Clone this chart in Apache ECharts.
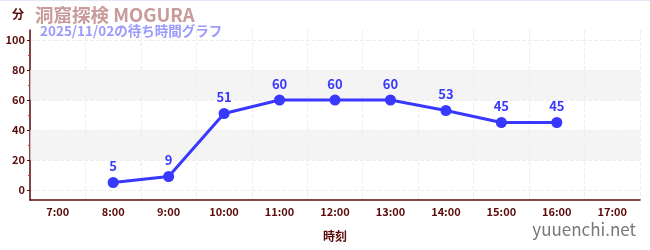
<!DOCTYPE html>
<html><head><meta charset="utf-8">
<script src="https://cdn.jsdelivr.net/npm/echarts@6/dist/echarts.min.js"></script>
<style>html,body{margin:0;padding:0;background:#fff}#c{width:650px;height:250px}</style>
</head><body><div id="c"></div>
<script>
const categories = ['7:00','8:00','9:00','10:00','11:00','12:00','13:00','14:00','15:00','16:00','17:00'];
const waitTimes = [null, 5, 9, 51, 60, 60, 60, 53, 45, 45, null];
const yTicks = [0, 20, 40, 60, 80, 100];
const yMinorTicks = [10, 30, 50, 70, 90];
const bands = [[20, 40], [60, 80]];
const titleText = '洞窟探検 MOGURA';
const subtitleText = '2025/11/02の待ち時間グラフ';

const axisColor = '#5a0a0a';
const font = '"Noto Sans CJK JP","Noto Sans",sans-serif';
const chart = echarts.init(document.getElementById('c'), null, {renderer: 'canvas'});
chart.setOption({
  animation: false,
  textStyle: {fontFamily: font},
  title: {
    text: titleText, left: 30, top: 1,
    textStyle: {color: '#c89a9a', fontSize: 18.5, fontWeight: 'bold', fontFamily: font}
  },
  graphic: [
    {type: 'line', shape: {x1: 0, y1: 0.5, x2: 650, y2: 0.5}, style: {stroke: '#e6e6fa', lineWidth: 1}},
    {type: 'text', left: 40, top: 24, z: 10, style: {text: subtitleText, fill: '#9a9aff', font: 'bold 13.5px ' + font}},
    {type: 'text', left: 12, top: 8, style: {text: '分', fill: axisColor, font: 'bold 12px ' + font}},
    {type: 'text', right: 14, top: 221, style: {text: 'yuuenchi.net', fill: '#777777', font: '17px ' + font}}
  ],
  grid: {left: 30, right: 10, top: 30, bottom: 50},
  xAxis: {
    type: 'category', data: categories, boundaryGap: true,
    name: '時刻', nameLocation: 'middle', nameGap: 30,
    nameTextStyle: {color: axisColor, fontSize: 12, fontWeight: 'bold'},
    axisLine: {onZero: false, lineStyle: {color: axisColor, width: 1.5}},
    axisTick: {alignWithLabel: true, inside: true, length: 3, lineStyle: {color: axisColor}},
    axisLabel: {color: axisColor, fontSize: 11, fontWeight: 'bold', margin: 6},
    splitLine: {show: true, lineStyle: {color: '#ececec', type: 'dashed'}}
  },
  yAxis: [{
    type: 'value', min: -6.67, max: 106.67,
    axisLine: {show: true, onZero: false, lineStyle: {color: axisColor, width: 1.5}},
    axisTick: {show: true, customValues: yTicks, length: 3, lineStyle: {color: axisColor}},
    axisLabel: {customValues: yTicks, color: axisColor, fontSize: 11, fontWeight: 'bold', margin: 5},
    splitLine: {show: true, lineStyle: {color: '#ececec', type: 'dashed'}}
  }, {
    type: 'value', min: -6.67, max: 106.67, position: 'left',
    axisLine: {show: false, onZero: false},
    axisTick: {show: true, customValues: yMinorTicks, length: 2, lineStyle: {color: '#e03030'}},
    axisLabel: {show: false},
    splitLine: {show: false}
  }],
  series: [{
    type: 'line', data: waitTimes, yAxisIndex: 0,
    symbol: 'circle', symbolSize: 11, connectNulls: false,
    lineStyle: {color: '#3838ff', width: 3},
    itemStyle: {color: '#3838ff'},
    label: {show: true, position: 'top', color: '#3838ff', fontSize: 13, fontWeight: 'bold', distance: 4},
    markArea: {
      silent: true,
      itemStyle: {color: 'rgba(240,240,240,0.7)'},
      data: bands.map(b => [{yAxis: b[0]}, {yAxis: b[1]}])
    },
    z: 5
  }]
});
</script></body></html>
